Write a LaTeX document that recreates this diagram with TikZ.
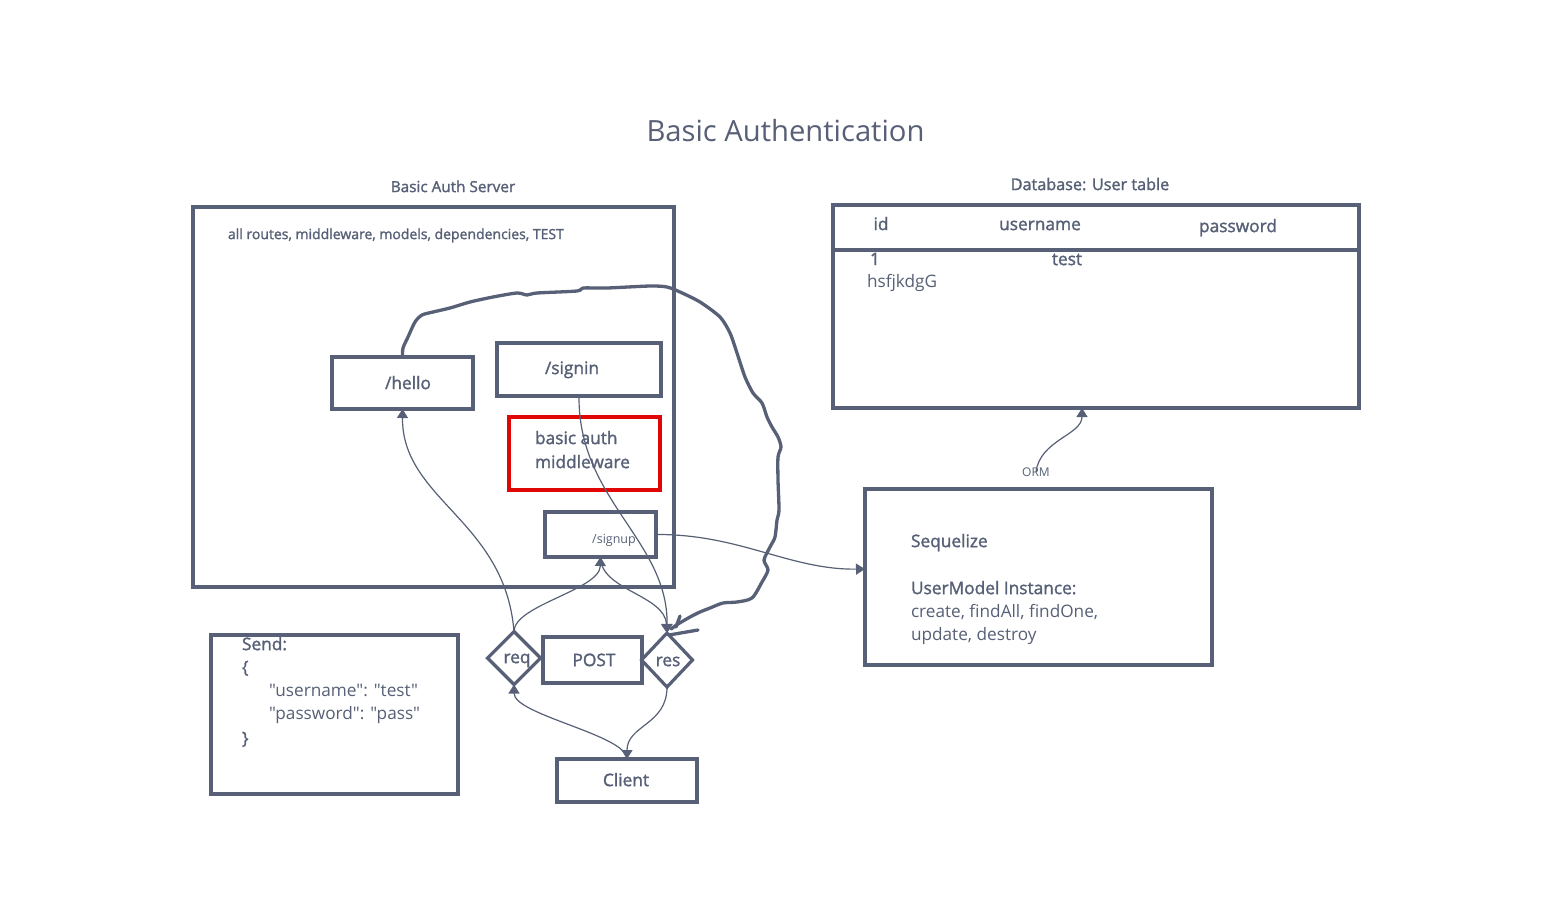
\documentclass[tikz,border=0pt]{standalone}
\usepackage{fontspec}
\setmainfont{Open Sans}
\newfontfamily\medfont{Open Sans}[FakeBold=1.6]
\newfontfamily\jsonfont{Open Sans}[Ligatures=TeXOff]
\usetikzlibrary{arrows.meta,shapes.geometric}
\definecolor{ink}{HTML}{576076}
\definecolor{alert}{HTML}{E00606}

\begin{document}
\begin{tikzpicture}[x=1pt,y=-1pt,
  every node/.style={text=ink, inner sep=0pt, outer sep=0pt},
  frame/.style={draw=ink, line width=3.2pt, rectangle},
  redframe/.style={draw=alert, line width=3.2pt, rectangle},
  gate/.style={draw=ink, line width=3.2pt, diamond, aspect=1},
  txt/.style={text height=.72em, text depth=.2em, yshift=-3.5pt},
  title/.style={txt, font=\fontsize{29.2}{35}\selectfont},
  caption/.style={txt, font=\medfont\fontsize{15.3}{18}\selectfont},
  note/.style={txt, font=\medfont\fontsize{14}{17}\selectfont},
  lbl/.style={txt, font=\medfont\fontsize{17.3}{21}\selectfont},
  body/.style={txt, font=\fontsize{17.2}{21}\selectfont},
  json/.style={txt, font=\jsonfont\fontsize{17.2}{21}\selectfont},
  tiny/.style={txt, font=\fontsize{12.5}{15}\selectfont},
  conn/.style={draw=ink, line width=1.2pt},
  tip/.style={-{Triangle[width=11pt,length=9pt]}},
  hand/.style={draw=ink, line width=3.3pt, line cap=round, line join=round}
]
\fill[white] (0,0) rectangle (1553,914);
\useasboundingbox (0,0) rectangle (1553,914);

% heading
\node[title] (ttl) at (785.5,135) {Basic Authentication};

% server side
\node[caption] (srvcap) at (453,186) {Basic Auth Server};
\node[frame, minimum width=481pt, minimum height=380pt] (server) at (433.5,397) {};
\node[note, anchor=west] (scope) at (228,233) {all routes, middleware, models, dependencies, TEST};

\node[frame, minimum width=141pt, minimum height=52pt] (hello) at (402.5,383) {};
\node[lbl] (hellot) at (408,383) {/hello};
\node[frame, minimum width=164pt, minimum height=53pt] (signin) at (579,369.5) {};
\node[lbl] (signint) at (572,368) {/signin};
\node[redframe, minimum width=151pt, minimum height=73pt] (mw) at (584.5,453.5) {};
\node[lbl, anchor=west] (mw1) at (535,438) {basic auth};
\node[lbl, anchor=west] (mw2) at (535,462) {middleware};
\node[frame, minimum width=111pt, minimum height=45pt] (signup) at (600.5,534.5) {};
\node[tiny] (signupt) at (614,537) {/signup};

% request / response
\node[gate, minimum width=53pt, minimum height=53pt] (req) at (514,658) {};
\node[lbl] (reqt) at (517,657) {req};
\node[frame, minimum width=99pt, minimum height=46pt] (post) at (592.5,660) {};
\node[lbl] (postt) at (594,660) {POST};
\node[gate, minimum width=51pt, minimum height=54pt] (res) at (667,660) {};
\node[lbl] (rest) at (668,660) {res};
\node[frame, minimum width=140pt, minimum height=43pt] (client) at (627,780.5) {};
\node[lbl] (clientt) at (626,780) {Client};

% request body
\node[frame, minimum width=247pt, minimum height=159pt] (send) at (334.5,714.5) {};
\node[lbl, anchor=west] (send1) at (242,644) {Send:};
\node[lbl, anchor=west] (send2) at (242,667) {\{};
\node[json, anchor=west] (send3) at (269,690) {"username": "test"};
\node[json, anchor=west] (send4) at (269,713) {"password": "pass"};
\node[lbl, anchor=west] (send5) at (242,738) {\}};

% database table
\node[caption, font=\medfont\fontsize{16.2}{19}\selectfont] (dbcap) at (1090,184) {Database: User table};
\node[frame, minimum width=526pt, minimum height=203pt] (db) at (1096,306.5) {};
\draw[draw=ink, line width=3.2pt] ([yshift=-45pt]db.north west) -- ([yshift=-45pt]db.north east);
\node[lbl] (colid) at (881,224) {id};
\node[lbl] (colname) at (1040,224) {username};
\node[lbl] (colpass) at (1238,226) {password};
\node[lbl] (rowid) at (875,259) {1};
\node[lbl] (rowname) at (1067,259) {test};
\node[body, anchor=west] (rowpass) at (867,281) {hsfjkdgG};
\coordinate (dbin) at (1082,408);

% ORM layer
\node[txt, font=\fontsize{12}{14}\selectfont] (orm) at (1036,470) {ORM};
\node[frame, minimum width=347pt, minimum height=176pt] (seq) at (1038.5,577) {};
\node[lbl, anchor=west] (seq1) at (911,541) {Sequelize};
\node[lbl, anchor=west] (seq2) at (911,588) {UserModel Instance:};
\node[body, anchor=west] (seq3) at (911,611) {create, findAll, findOne,};
\node[body, anchor=west] (seq4) at (911,634) {update, destroy};
\coordinate (seqin) at (865,569);

% connectors
\draw[conn,tip] (req.north) .. controls (505,520) and (402,500) .. (hello.south);
\draw[conn,tip] (req.north) .. controls (514,605) and (600,590) .. (signup.south);
\draw[conn,tip] (signup.south) .. controls (600,590) and (665,595) .. (res.north);
\draw[conn,tip] (signin.south) .. controls (578,500) and (668,540) .. (res.north);
\draw[conn,tip] (signup.east) .. controls (740,534) and (790,570) .. (seqin);
\draw[conn,tip] (client.north) .. controls (627,735) and (514,715) .. (req.south);
\draw[conn,tip] (res.south) .. controls (667,725) and (627,725) .. (client.north);
\draw[conn,tip] ([yshift=-3pt]orm.north) .. controls (1040,440) and (1082,435) .. (dbin);

% freehand loop from /hello back to res
\draw[hand] plot[smooth, tension=0.45] coordinates {(hello.north) (403,348) (408,337)
  (415,322) (422,315) (433,312) (450,308) (470,302) (493,297) (517,293) (527,295)
  (537,293) (577,291) (583,288) (607,288) (650,286) (667,287) (680,292) (700,302)
  (720,317) (730,333) (737,353) (745,377) (753,393) (762,403) (767,417) (772,427)
  (778,437) (781,447) (778,457) (778,480) (779,510) (777,520) (775,537) (770,547)
  (764,560) (768,570) (762,582) (752,598) (737,602) (723,603) (710,608) (700,612)
  (690,617) (678,624) ([shift={(4pt,4pt)}]res.north)};
\draw[hand] (680,616) -- (676,627);
\draw[hand] (669,635) -- (698,630);
\end{tikzpicture}
\end{document}
